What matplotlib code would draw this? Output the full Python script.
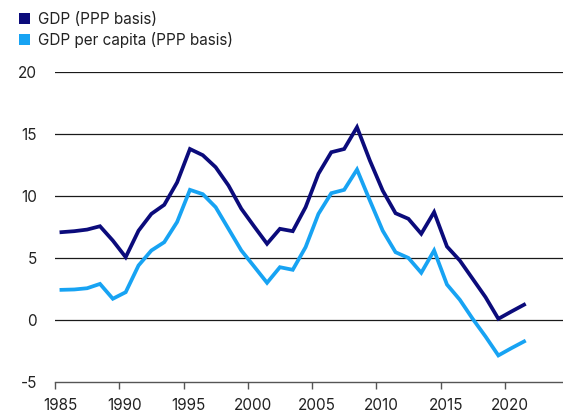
import numpy as np
import matplotlib
matplotlib.use('Agg')
import matplotlib.pyplot as plt
from matplotlib.patches import Patch

plt.rcParams['font.family'] = ['Inter', 'DejaVu Sans']

years = np.arange(1985, 2022)
gdp = [7.08, 7.16, 7.29, 7.56, 6.4, 5.06, 7.2, 8.56, 9.29, 11.1, 13.8, 13.3,
       12.33, 10.85, 8.97, 7.54, 6.14, 7.35, 7.16, 9.1, 11.8, 13.54, 13.8,
       15.56, 12.87, 10.44, 8.61, 8.16, 6.95, 8.7, 5.92, 4.79, 3.31, 1.83,
       0.08, 0.66, 1.22]
gdp_pc = [2.42, 2.45, 2.55, 2.9, 1.7, 2.23, 4.39, 5.6, 6.27, 7.9, 10.5, 10.15,
          9.1, 7.35, 5.6, 4.3, 2.99, 4.25, 4.04, 5.87, 8.56, 10.23, 10.5,
          12.14, 9.64, 7.2, 5.46, 5.0, 3.8, 5.6, 2.85, 1.62, 0.08, -1.35,
          -2.88, -2.3, -1.75]
tick_years = np.arange(1985, 2021, 5)
yticks = [-5, 0, 5, 10, 15, 20]

dark = '#0b0b7b'
light = '#17a3f3'
txt = '#222222'

fig = plt.figure(figsize=(5.63, 4.17), dpi=100)
ax = fig.add_axes([0.0977, 0.0847, 0.9023, 0.742])

ax.plot(years, gdp_pc, color=light, lw=2.7, solid_joinstyle='miter', zorder=3)
ax.plot(years, gdp, color=dark, lw=2.7, solid_joinstyle='miter', zorder=4)

# tick marks sit half a year before each data point
ax.set_xlim(1984.5, 2024.03)
ax.set_ylim(-5, 20)

for v in yticks[1:]:
    ax.axhline(v, color='#1a1a1a', lw=0.9, zorder=1)

for s in ['top', 'right', 'left']:
    ax.spines[s].set_visible(False)
ax.spines['bottom'].set_color('#555555')
ax.spines['bottom'].set_linewidth(1.0)

ax.set_yticks(yticks)
ax.set_yticklabels([str(v) for v in yticks])
ax.tick_params(axis='y', length=0, pad=13, labelsize=11, labelcolor=txt)

ax.set_xticks(tick_years - 0.1)
ax.set_xticklabels([str(y) for y in tick_years])
ax.set_xticks(tick_years - 0.5, minor=True)
ax.tick_params(axis='x', which='major', length=0, pad=12, labelsize=11, labelcolor=txt)
ax.tick_params(axis='x', which='minor', length=5, width=1.0, color='#555555')

handles = [Patch(facecolor=dark, edgecolor='none'), Patch(facecolor=light, edgecolor='none')]
fig.legend(handles, ['GDP (PPP basis)', 'GDP per capita (PPP basis)'],
           loc='upper left', bbox_to_anchor=(0.012, 1.0), frameon=False,
           fontsize=11, handlelength=0.75, handleheight=0.75,
           handletextpad=0.5, labelspacing=0.3, borderpad=0.3,
           labelcolor=txt)

plt.savefig('out.png', dpi=100)
